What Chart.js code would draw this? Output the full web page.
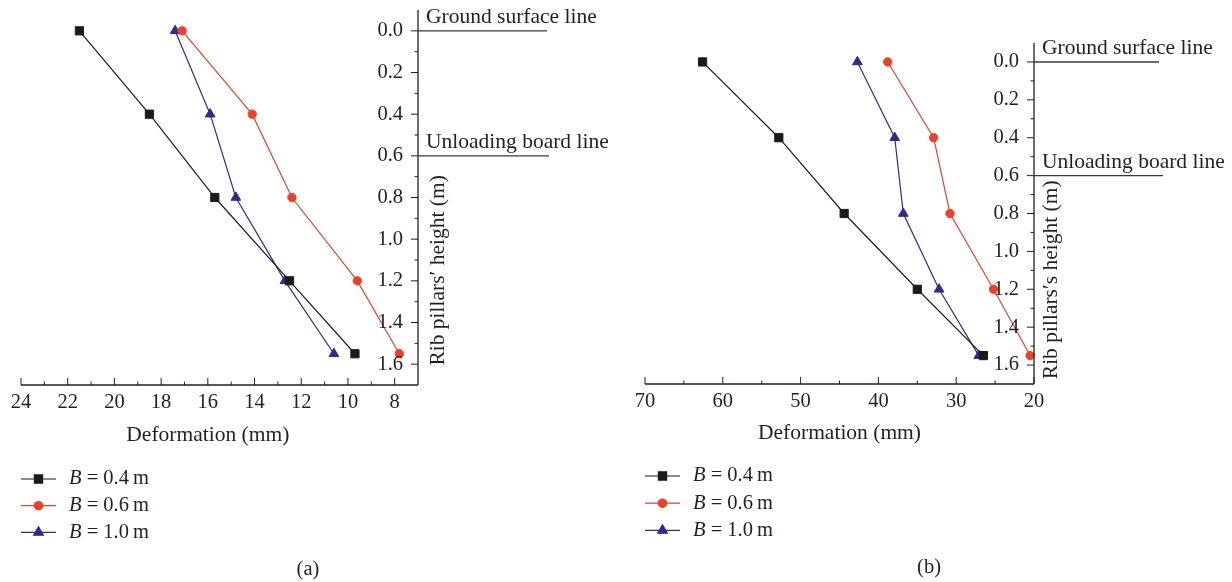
<!DOCTYPE html>
<html lang="en">
<head>
<meta charset="UTF-8">
<title>Rib pillar deformation</title>
<script src="https://cdn.jsdelivr.net/npm/chart.js"></script>
<style>
  body { margin: 0; background: #fff; width: 1232px; height: 582px; overflow: hidden; position: relative; }
  canvas { position: absolute; top: 0; }
  #chartA { left: 0; }
  #chartB { left: 616px; }
</style>
</head>
<body>
<canvas id="chartA" width="616" height="582"></canvas>
<canvas id="chartB" width="616" height="582"></canvas>
<script>
// rib pillar height of each monitoring point (m)
const heights = [0.0, 0.4, 0.8, 1.2, 1.55];

// deformation (mm), case (a)
const defA_04 = [21.5, 18.5, 15.7, 12.5, 9.7];
const defA_06 = [17.1, 14.1, 12.4, 9.6, 7.8];
const defA_10 = [17.4, 15.9, 14.8, 12.7, 10.6];

// deformation (mm), case (b)
const defB_04 = [62.6, 52.8, 44.4, 35.0, 26.5];
const defB_06 = [38.8, 32.9, 30.8, 25.2, 20.5];
const defB_10 = [42.7, 37.9, 36.8, 32.2, 27.1];

// B of each series (m)
const widths = ['0.4', '0.6', '1.0'];

// axis ticks
const heightTicks = [0.0, 0.2, 0.4, 0.6, 0.8, 1.0, 1.2, 1.4, 1.6];
const defTicksA = [24, 22, 20, 18, 16, 14, 12, 10, 8];
const defTicksB = [70, 60, 50, 40, 30, 20];

// horizontal marker lines
const markLevels = [0.0, 0.6];
const markNames = ['Ground surface line', 'Unloading board line'];

const INK = '#231f20';
const SERIF = '"Liberation Serif", "Times New Roman", serif';
const TEXT_FONT = '21.5px ' + SERIF;
const TICK_FONT = '20.5px ' + SERIF;

const looks = [
  { color: '#1b1b1b', pointStyle: 'rect', radius: 5.8 },
  { color: '#ee3f27', pointStyle: 'circle', radius: 4.2 },
  { color: '#2f2a92', pointStyle: 'triangle', radius: 5.6 }
];

function midpoints(arr) {
  const out = [];
  for (let i = 0; i < arr.length - 1; i++) out.push((arr[i] + arr[i + 1]) / 2);
  return out;
}

// axes, ticks, titles, marker lines and legend are drawn here
const pillarAxes = {
  id: 'pillarAxes',
  afterDraw(chart, args, o) {
    const { ctx, chartArea: a } = chart;
    const xs = chart.scales.x, ys = chart.scales.y;
    ctx.save();
    ctx.strokeStyle = INK;
    ctx.fillStyle = INK;

    // axis lines
    ctx.lineWidth = 1.3;
    ctx.beginPath();
    ctx.moveTo(a.left, a.bottom);
    ctx.lineTo(a.right, a.bottom);
    ctx.moveTo(a.right, a.top);
    ctx.lineTo(a.right, a.bottom);
    ctx.stroke();

    // tick marks point into the plot
    ctx.lineWidth = 1;
    ctx.beginPath();
    o.xTicks.forEach(v => {
      const p = xs.getPixelForValue(v);
      ctx.moveTo(p, a.bottom); ctx.lineTo(p, a.bottom - 7);
    });
    midpoints(o.xTicks).forEach(v => {
      const p = xs.getPixelForValue(v);
      ctx.moveTo(p, a.bottom); ctx.lineTo(p, a.bottom - 3.5);
    });
    heightTicks.forEach(v => {
      const p = ys.getPixelForValue(v);
      ctx.moveTo(a.right, p); ctx.lineTo(a.right - 7, p);
    });
    midpoints(heightTicks).forEach(v => {
      const p = ys.getPixelForValue(v);
      ctx.moveTo(a.right, p); ctx.lineTo(a.right - 3.5, p);
    });
    ctx.stroke();

    // tick labels
    ctx.font = TICK_FONT;
    ctx.textBaseline = 'middle';
    ctx.textAlign = 'center';
    o.xTicks.forEach(v => ctx.fillText(String(v), xs.getPixelForValue(v), a.bottom + o.xLabelGap));
    ctx.textAlign = 'right';
    heightTicks.forEach(v => ctx.fillText(v.toFixed(1), a.right - 15, ys.getPixelForValue(v)));

    // axis titles
    ctx.font = TEXT_FONT;
    ctx.textAlign = 'center';
    ctx.fillText('Deformation (mm)', xs.getPixelForValue(o.xTitleAt), a.bottom + o.xTitleGap);
    ctx.save();
    ctx.translate(a.right + o.yTitleGap, ys.getPixelForValue(1.15));
    ctx.rotate(-Math.PI / 2);
    ctx.fillText(o.yTitle, 0, 0);
    ctx.restore();

    // ground surface / unloading board lines
    ctx.textAlign = 'left';
    ctx.textBaseline = 'alphabetic';
    markLevels.forEach((lv, i) => {
      const p = ys.getPixelForValue(lv);
      ctx.strokeStyle = '#3a3a3a';
      ctx.lineWidth = 1.4;
      ctx.beginPath();
      ctx.moveTo(a.right, p);
      ctx.lineTo(a.right + o.markLen[i], p);
      ctx.stroke();
      ctx.fillText(markNames[i], a.right + 8, p - 8);
    });

    // legend
    chart.data.datasets.forEach((ds, i) => {
      const y = o.legendTop + i * o.legendStep;
      const x0 = o.legendLeft, x1 = x0 + 35;
      ctx.strokeStyle = ds.borderColor;
      ctx.fillStyle = ds.backgroundColor;
      ctx.lineWidth = 1.2;
      ctx.beginPath();
      ctx.moveTo(x0, y); ctx.lineTo(x1, y);
      ctx.stroke();
      Chart.helpers.drawPoint(ctx, {
        pointStyle: ds.pointStyle, radius: ds.pointRadius, rotation: 0, borderWidth: 1
      }, (x0 + x1) / 2, y);
      ctx.fillStyle = INK;
      ctx.textBaseline = 'middle';
      ctx.font = 'italic 20.5px ' + SERIF;
      ctx.fillText('B', x1 + 13, y);
      const bw = ctx.measureText('B').width;
      ctx.font = '20.5px ' + SERIF;
      ctx.fillText(' = ' + widths[i] + '\u2009m', x1 + 13 + bw, y);
    });

    // panel caption
    ctx.textAlign = 'center';
    ctx.fillText(o.caption, o.captionX, o.captionY);
    ctx.restore();
  }
};

function makeChart(id, series, xTicks, xMin, xMax, pad, extra) {
  const datasets = series.map((vals, i) => ({
    label: 'B = ' + widths[i] + ' m',
    data: vals.map((v, k) => ({ x: v, y: heights[k] })),
    showLine: true,
    borderColor: looks[i].color,
    backgroundColor: looks[i].color,
    borderWidth: 1.2,
    pointStyle: looks[i].pointStyle,
    pointRadius: looks[i].radius,
    pointBorderWidth: 1,
    clip: false
  }));
  return new Chart(document.getElementById(id), {
    type: 'scatter',
    data: { datasets },
    options: {
      responsive: false,
      animation: false,
      layout: { padding: pad },
      scales: {
        x: { type: 'linear', reverse: true, min: xMin, max: xMax, display: false },
        y: { type: 'linear', reverse: true, min: -0.1, max: 1.7, display: false }
      },
      plugins: {
        legend: { display: false },
        tooltip: { enabled: false },
        pillarAxes: Object.assign({ xTicks }, extra)
      }
    },
    plugins: [pillarAxes]
  });
}

makeChart('chartA', [defA_04, defA_06, defA_10], defTicksA, 7, 24,
  { left: 21, right: 198, top: 10, bottom: 197 },
  {
    xLabelGap: 18, xTitleAt: 16, xTitleGap: 50, yTitleGap: 20,
    yTitle: 'Rib pillars\u2032 height (m)',
    markLen: [129, 131],
    legendLeft: 21, legendTop: 479, legendStep: 26.7,
    caption: '(a)', captionX: 308, captionY: 570
  });

makeChart('chartB', [defB_04, defB_06, defB_10], defTicksB, 20, 70,
  { left: 29, right: 198, top: 43, bottom: 198 },
  {
    xLabelGap: 17.5, xTitleAt: 45, xTitleGap: 49, yTitleGap: 17,
    yTitle: 'Rib pillars\u2032s height (m)',
    markLen: [125, 129],
    legendLeft: 29, legendTop: 476, legendStep: 27.2,
    caption: '(b)', captionX: 313, captionY: 568
  });
</script>
</body>
</html>
